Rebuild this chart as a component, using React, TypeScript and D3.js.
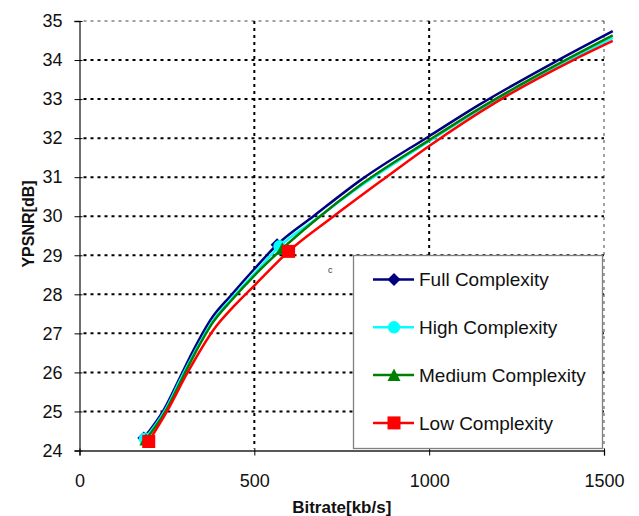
import React, { useRef, useEffect } from 'react';
import * as d3 from 'd3';

// bitrate [kb/s] / YPSNR [dB]
const fullRate = [184, 241, 289, 322, 379, 431, 498, 565, 669, 808, 1000, 1146, 1355, 1525];
const fullPsnr = [24.32, 25.04, 25.9, 26.5, 27.4, 27.95, 28.63, 29.27, 30.0, 30.95, 32.05, 32.87, 33.93, 34.74];
const fullMarks = [0, 7];

const highRate = [187, 244, 292, 326, 381, 434, 500, 572, 669, 808, 1000, 1146, 1355, 1525];
const highPsnr = [24.3, 25.02, 25.88, 26.46, 27.32, 27.88, 28.53, 29.23, 29.88, 30.8, 31.92, 32.74, 33.79, 34.57];
const highMarks = [0, 7];

const mediumRate = [190, 246, 295, 328, 383, 436, 502, 580, 669, 808, 1000, 1146, 1355, 1525];
const mediumPsnr = [24.28, 25.0, 25.87, 26.45, 27.3, 27.86, 28.5, 29.17, 29.86, 30.83, 31.95, 32.77, 33.83, 34.63];
const mediumMarks = [0, 7];

const lowRate = [198, 250, 308, 384, 441, 503, 598, 727, 865, 1000, 1193, 1412, 1525];
const lowPsnr = [24.23, 25.0, 25.98, 27.1, 27.69, 28.25, 29.1, 30.0, 30.92, 31.8, 32.93, 34.0, 34.49];
const lowMarks = [0, 6];

const seriesNames = ['Full Complexity', 'High Complexity', 'Medium Complexity', 'Low Complexity'];
const xTicks = [0, 500, 1000, 1500];
const yTicks = [24, 25, 26, 27, 28, 29, 30, 31, 32, 33, 34, 35];

const FONT = '"Liberation Sans", Arial, sans-serif';

const series = [
  { name: seriesNames[0], rate: fullRate, psnr: fullPsnr, marks: fullMarks, color: '#000080', shape: 'diamond' },
  { name: seriesNames[1], rate: highRate, psnr: highPsnr, marks: highMarks, color: '#00ffff', shape: 'circle' },
  { name: seriesNames[2], rate: mediumRate, psnr: mediumPsnr, marks: mediumMarks, color: '#008000', shape: 'triangle' },
  { name: seriesNames[3], rate: lowRate, psnr: lowPsnr, marks: lowMarks, color: '#ff0000', shape: 'square' },
];

function markerPath(shape: string) {
  if (shape === 'diamond') return 'M0,-6.5L6.5,0L0,6.5L-6.5,0Z';
  if (shape === 'circle') return d3.symbol(d3.symbolCircle, 120)() as string;
  if (shape === 'triangle') return 'M0,-6.5L6.5,6L-6.5,6Z';
  return 'M-6.5,-6.5H6.5V6.5H-6.5Z';
}

const Chart = () => {
  const svgRef = useRef<SVGSVGElement>(null);

  useEffect(() => {
    const svg = d3.select(svgRef.current);
    svg.selectAll('*').remove();

    // scales
    const x = d3.scaleLinear().domain([0, 1500]).range([79.5, 604]);
    const y = d3.scaleLinear().domain([24, 35]).range([450.5, 21]);

    // gridlines
    const grid = svg.append('g');
    yTicks.slice(1).forEach((t) => {
      const top = t === 35;
      grid.append('line')
        .attr('x1', x(0) + 4).attr('x2', x(1500))
        .attr('y1', y(t)).attr('y2', y(t))
        .attr('stroke', top ? '#444' : '#000')
        .attr('stroke-width', top ? 1 : 2)
        .attr('stroke-dasharray', '3,4');
    });
    xTicks.slice(1).forEach((t) => {
      const right = t === 1500;
      grid.append('line')
        .attr('x1', x(t)).attr('x2', x(t))
        .attr('y1', y(35)).attr('y2', y(24) - 2)
        .attr('stroke', right ? '#444' : '#000')
        .attr('stroke-width', right ? 1 : 2)
        .attr('stroke-dasharray', '3,4');
    });

    // axes
    const yAxis = d3.axisLeft(y).tickValues(yTicks).tickSize(5).tickPadding(12).tickFormat(d3.format('d'));
    const gy = svg.append('g').attr('transform', `translate(${x(0)},0)`).call(yAxis);
    gy.selectAll('.tick line').attr('x1', 3);
    const xAxis = d3.axisBottom(x).tickValues(xTicks).tickSize(5).tickPadding(19).tickFormat(d3.format('d'));
    const gx = svg.append('g').attr('transform', `translate(0,${y(24)})`).call(xAxis);
    gx.selectAll('.tick line').attr('y1', -2);
    [gx, gy].forEach((g) => {
      g.select('.domain').attr('stroke', '#222').attr('stroke-width', 1.3);
      g.selectAll('text').attr('font-family', FONT).attr('font-size', 18).attr('fill', '#111');
    });

    // lines + markers
    series.forEach((s) => {
      const pts = s.rate.map((r, i) => [r, s.psnr[i]] as [number, number]);
      const path = d3.line<[number, number]>()
        .x((d) => x(d[0]))
        .y((d) => y(d[1]))
        .curve(d3.curveMonotoneX);
      svg.append('path')
        .attr('d', path(pts))
        .attr('fill', 'none')
        .attr('stroke', s.color)
        .attr('stroke-width', 2.5);
      svg.selectAll(null)
        .data(s.marks.map((i) => pts[i]))
        .join('path')
        .attr('d', markerPath(s.shape))
        .attr('transform', (d) => `translate(${x(d[0])},${y(d[1])})`)
        .attr('fill', s.color);
    });

    // stray glyph in the reference
    svg.append('text')
      .attr('x', 328).attr('y', 273)
      .attr('font-family', FONT).attr('font-size', 9).attr('fill', '#333')
      .text('c');

    // legend
    const lg = svg.append('g');
    lg.append('rect')
      .attr('x', 353.5).attr('y', 255.5).attr('width', 249).attr('height', 193)
      .attr('fill', '#fff').attr('stroke', '#808080').attr('stroke-width', 1.3);
    series.forEach((s, i) => {
      const cy = 279.5 + i * 47.8;
      lg.append('line')
        .attr('x1', 373).attr('x2', 414).attr('y1', cy).attr('y2', cy)
        .attr('stroke', s.color).attr('stroke-width', 2.5);
      lg.append('path')
        .attr('d', markerPath(s.shape))
        .attr('transform', `translate(394,${cy})`)
        .attr('fill', s.color);
      lg.append('text')
        .attr('x', 419).attr('y', cy + 6.8)
        .attr('font-family', FONT).attr('font-size', 19).attr('fill', '#111')
        .text(s.name);
    });

    // axis titles
    svg.append('text')
      .attr('x', (x(0) + x(1500)) / 2).attr('y', 513)
      .attr('text-anchor', 'middle')
      .attr('font-family', FONT).attr('font-size', 17).attr('font-weight', 'bold').attr('fill', '#111')
      .text('Bitrate[kb/s]');
    svg.append('text')
      .attr('transform', 'translate(34,224) rotate(-90)')
      .attr('text-anchor', 'middle')
      .attr('font-family', FONT).attr('font-size', 16).attr('font-weight', 'bold').attr('fill', '#111')
      .text('YPSNR[dB]');
  }, []);

  return (
    <svg
      ref={svgRef}
      width={639}
      height={516}
      style={{ position: 'absolute', left: 0, top: 0, background: '#fff' }}
    ></svg>
  );
};

export default function App() {
  return <Chart />;
}
